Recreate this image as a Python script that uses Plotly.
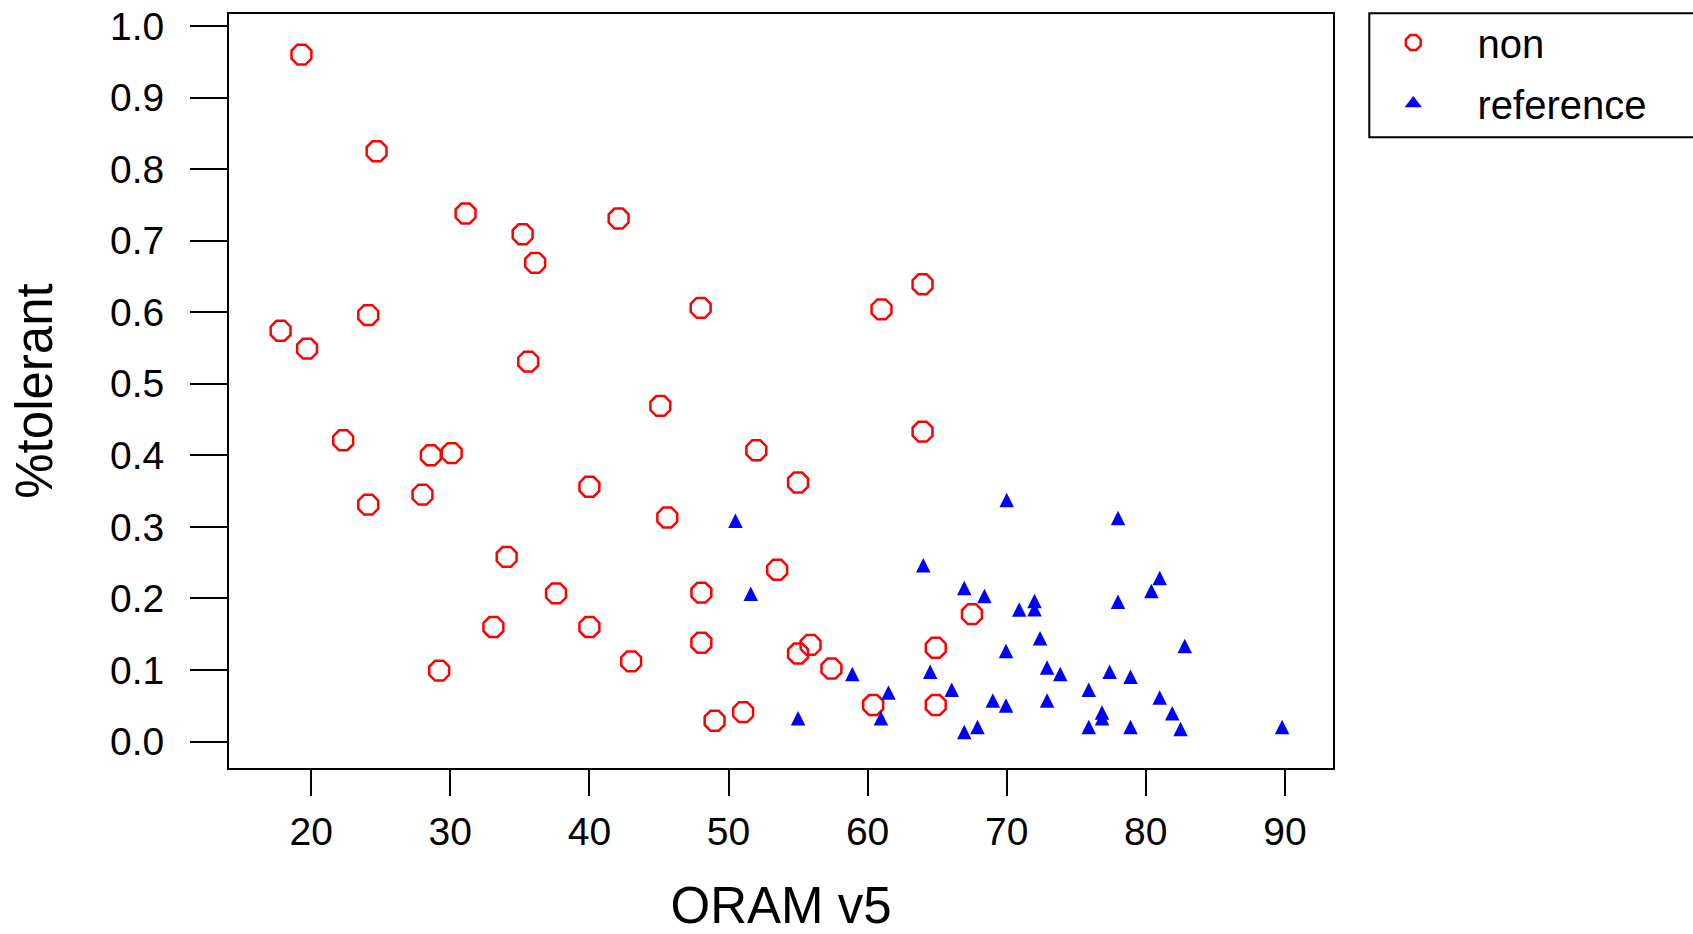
import plotly.graph_objects as go

# ---------------- data ----------------
non_x = [19.3, 24.7, 31.1, 35.2, 36.1, 42.1, 17.8, 19.7, 24.1, 35.6,
         45.1, 22.3, 28.6, 30.1, 48.0, 24.1, 28.0, 40.0, 45.6, 34.05,
         37.6, 33.1, 40.0, 43.0, 29.2, 48.05, 48.05, 52.0, 55.0, 63.95,
         53.5, 67.5, 55.9, 55.0, 57.4, 64.9, 64.9, 60.4, 51.05, 49.0,
         61.0, 63.95]
non_y = [0.960, 0.825, 0.738, 0.709, 0.669, 0.731, 0.574, 0.549, 0.596, 0.531,
         0.469, 0.421, 0.400, 0.403, 0.606, 0.331, 0.345, 0.356, 0.313, 0.258,
         0.207, 0.160, 0.160, 0.112, 0.099, 0.208, 0.138, 0.407, 0.362, 0.433,
         0.240, 0.178, 0.135, 0.123, 0.102, 0.131, 0.051, 0.051, 0.041, 0.029,
         0.604, 0.639]

ref_x = [70.0, 78.0, 64.0, 66.95, 68.4, 70.9, 72.0, 72.0, 81.0, 80.4,
         78.0, 72.4, 82.8, 69.95, 64.5, 72.9, 73.85, 77.4, 78.9, 66.05,
         75.9, 69.0, 69.95, 72.9, 81.0, 81.9, 76.85, 76.85, 75.9, 78.9,
         82.5, 89.8, 67.9, 66.95, 50.5, 51.6, 58.9, 61.5, 60.96, 55.0]
ref_y = [0.334, 0.309, 0.243, 0.211, 0.200, 0.181, 0.193, 0.1815, 0.225, 0.207,
         0.192, 0.141, 0.130, 0.123, 0.094, 0.100, 0.091, 0.094, 0.087, 0.069,
         0.069, 0.054, 0.047, 0.054, 0.058, 0.036, 0.037, 0.029, 0.017, 0.017,
         0.014, 0.017, 0.017, 0.010, 0.305, 0.203, 0.091, 0.065, 0.029, 0.029]

x_ticks = [20, 30, 40, 50, 60, 70, 80, 90]
y_ticks = [0.0, 0.1, 0.2, 0.3, 0.4, 0.5, 0.6, 0.7, 0.8, 0.9, 1.0]
y_tick_labels = ["0.0", "0.1", "0.2", "0.3", "0.4", "0.5", "0.6", "0.7", "0.8", "0.9", "1.0"]

series_names = ["non", "reference"]
x_title = "ORAM v5"
y_title = "%tolerant"

# ---------------- layout geometry ----------------
W, H = 1693, 934
ML, MR, MT, MB = 229, 360, 14, 166
plot_w = W - ML - MR
plot_h = H - MT - MB

# pixel calibration of the reference axes
x20_px, x_per_unit = 311.2, 13.91
y0_px, y_per_unit = 741.5, 715.5
x_range = [20 + (ML - x20_px) / x_per_unit, 20 + (W - MR - x20_px) / x_per_unit]
y_range = [(y0_px - (H - MB)) / y_per_unit, (y0_px - MT) / y_per_unit]

FONT = "Liberation Sans, Arial, sans-serif"
RED = "#ff0000"
BLUE = "#0000ff"
NBSP = "\u00a0"

oct_size = 21.5
tri_size = 14.5
# arrow-up symbol has its apex on the point; lift it so its centroid sits on the point
tri_shift = (2.0 / 3.0 * tri_size) * (y_range[1] - y_range[0]) / plot_h
y2_range = [y_range[0] - tri_shift, y_range[1] - tri_shift]


def px_to_paper_x(px):
    return (px - ML) / plot_w


def px_to_paper_y(py):
    return (H - MB - py) / plot_h


fig = go.Figure()

fig.add_trace(go.Scatter(
    x=non_x, y=non_y, mode="markers", name=NBSP * 2 + series_names[0],
    legendgroup="g1",
    marker=dict(symbol="octagon-open", size=oct_size, color=RED,
                line=dict(color=RED, width=2.5)),
    hoverinfo="x+y",
))
fig.add_trace(go.Scatter(
    x=ref_x, y=ref_y, mode="markers", name=series_names[1],
    yaxis="y2", showlegend=False, legendgroup="g2",
    marker=dict(symbol="arrow-up", size=tri_size, color=BLUE,
                line=dict(width=0)),
    hoverinfo="x+y",
))
# legend entry for the triangles (no data of its own)
fig.add_trace(go.Scatter(
    x=[None], y=[None], mode="markers",
    name=NBSP * 2 + series_names[1],
    legendgroup="g2",
    marker=dict(symbol="triangle-up", size=15, color=BLUE, line=dict(width=0)),
))

axis_common = dict(
    showline=True, linecolor="black", linewidth=2, mirror=True,
    showgrid=False, zeroline=False,
    ticks="outside", tickcolor="black", tickwidth=2,
    tickfont=dict(family=FONT, size=39, color="black"),
)

fig.update_layout(
    width=W, height=H,
    margin=dict(l=ML, r=MR, t=MT, b=MB, pad=0, autoexpand=False),
    paper_bgcolor="white", plot_bgcolor="white",
    font=dict(family=FONT, color="black"),
    xaxis=dict(
        range=x_range, tickvals=x_ticks, ticktext=[str(v) for v in x_ticks],
        ticklen=26, ticklabelstandoff=2,
        title=dict(text=x_title, font=dict(family=FONT, size=51, color="black"),
                   standoff=47),
        **axis_common,
    ),
    yaxis=dict(
        range=y_range, tickvals=y_ticks, ticktext=y_tick_labels,
        ticklen=37, ticklabelstandoff=18,
        title=dict(text=y_title, font=dict(family=FONT, size=51, color="black"),
                   standoff=41),
        **axis_common,
    ),
    yaxis2=dict(range=y2_range, overlaying="y", visible=False),
    showlegend=True,
    legend=dict(
        x=px_to_paper_x(1371.3), xanchor="left",
        y=px_to_paper_y(10.0), yanchor="top",
        borderwidth=0, bgcolor="rgba(0,0,0,0)",
        font=dict(family=FONT, size=40, color="black"),
        itemwidth=74, tracegroupgap=6, itemclick=False, itemdoubleclick=False,
    ),
    shapes=[dict(
        type="rect", xref="paper", yref="paper", layer="below",
        x0=px_to_paper_x(1369.3), x1=px_to_paper_x(1760),
        y0=px_to_paper_y(137.3), y1=px_to_paper_y(13.3),
        line=dict(color="black", width=2), fillcolor="rgba(0,0,0,0)",
    )],
)

fig.write_html("out.html",
               config={"displayModeBar": False},
               post_script="document.body.style.margin='0';document.body.style.overflow='hidden';")
